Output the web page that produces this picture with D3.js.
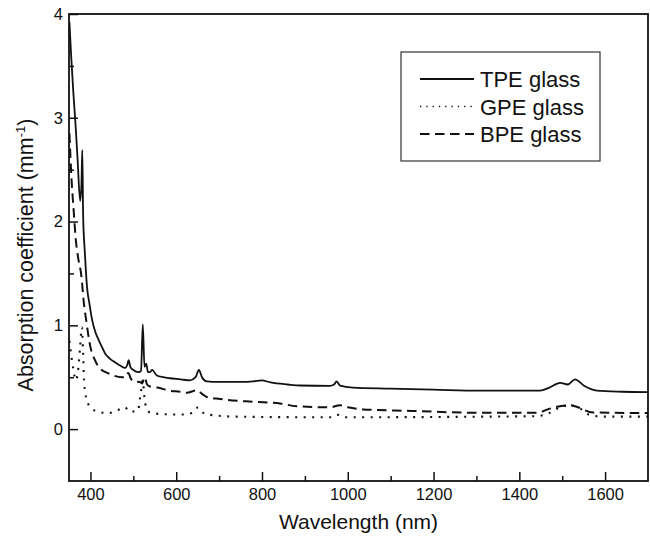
<!DOCTYPE html>
<html>
<head>
<meta charset="utf-8">
<script src="https://cdn.jsdelivr.net/npm/d3@7"></script>
<style>
  body { margin: 0; background: #fff; }
  #chart { width: 650px; height: 536px; }
  text { font-family: "Liberation Sans", Arial, sans-serif; fill: #111; }
</style>
</head>
<body>
<div id="chart"></div>
<script>
// Absorption spectra of the three glasses

var seriesNames = ["TPE glass", "GPE glass", "BPE glass"];

var tpeWl  = [351, 355, 360, 365, 370, 376, 379, 381, 383, 387, 392, 398, 404, 411, 419, 427, 434, 445, 457, 470, 481, 486, 489, 493, 500, 512, 518, 522, 526, 530, 534, 539, 544, 554, 570, 585, 610, 632, 645, 653, 660, 671, 700, 749, 780, 799, 820, 860, 889, 958, 968, 974, 982, 1012, 1100, 1200, 1308, 1400, 1448, 1470, 1495, 1513, 1530, 1550, 1581, 1640, 1700];
var tpeVal = [3.92, 3.6, 3.25, 2.95, 2.6, 2.2, 2.35, 2.69, 2.05, 1.7, 1.37, 1.2, 1.05, 0.94, 0.86, 0.79, 0.73, 0.68, 0.645, 0.61, 0.59, 0.62, 0.665, 0.6, 0.57, 0.55, 0.56, 1.01, 0.6, 0.63, 0.55, 0.55, 0.57, 0.52, 0.5, 0.49, 0.48, 0.47, 0.5, 0.57, 0.5, 0.46, 0.455, 0.455, 0.46, 0.47, 0.45, 0.43, 0.42, 0.417, 0.43, 0.46, 0.42, 0.4, 0.39, 0.38, 0.37, 0.37, 0.37, 0.4, 0.446, 0.43, 0.48, 0.42, 0.37, 0.36, 0.356];

var gpeWl  = [351, 355, 360, 366, 372, 376, 380, 383, 385, 388, 395, 400, 420, 443, 462, 481, 490, 505, 511, 515, 518, 522, 526, 530, 539, 566, 609, 640, 651, 662, 674, 741, 881, 960, 975, 990, 1100, 1308, 1440, 1467, 1495, 1518, 1541, 1565, 1600, 1700];
var gpeVal = [0.85, 0.72, 0.58, 0.47, 0.6, 0.8, 0.98, 0.72, 0.47, 0.35, 0.24, 0.21, 0.165, 0.155, 0.18, 0.21, 0.17, 0.17, 0.18, 0.28, 0.37, 0.47, 0.3, 0.21, 0.16, 0.145, 0.14, 0.16, 0.21, 0.16, 0.14, 0.12, 0.115, 0.115, 0.14, 0.115, 0.115, 0.12, 0.125, 0.15, 0.21, 0.23, 0.2, 0.135, 0.12, 0.12];

var bpeWl  = [351, 356, 361, 366, 371, 379, 384, 390, 400, 410, 419, 443, 474, 482, 488, 495, 500, 515, 520, 527, 532, 539, 556, 585, 609, 624, 649, 660, 671, 702, 779, 842, 881, 958, 982, 1000, 1035, 1150, 1308, 1440, 1473, 1518, 1530, 1572, 1700];
var bpeVal = [2.85, 2.4, 2.1, 1.82, 1.66, 1.47, 1.24, 1.05, 0.79, 0.67, 0.6, 0.535, 0.5, 0.5, 0.54, 0.48, 0.46, 0.455, 0.44, 0.5, 0.43, 0.41, 0.4, 0.37, 0.36, 0.35, 0.375, 0.34, 0.31, 0.29, 0.263, 0.247, 0.22, 0.21, 0.23, 0.21, 0.19, 0.175, 0.157, 0.157, 0.2, 0.23, 0.22, 0.16, 0.155];

var xTicks = [400, 600, 800, 1000, 1200, 1400, 1600];
var xMinor = [500, 700, 900, 1100, 1300, 1500];
var yTicks = [0, 1, 2, 3, 4];
var yMinor = [0.5, 1.5, 2.5, 3.5];

var width = 650, height = 536;
var plotL = 69, plotR = 648, plotT = 14, plotB = 481;

var svg = d3.select("#chart").append("svg")
    .attr("width", width)
    .attr("height", height);

var x = d3.scaleLinear().domain([350, 1700]).range([plotL, plotR]);
var y = d3.scaleLinear().domain([-0.5, 4]).range([plotB, plotT]);

// clip to the frame
svg.append("clipPath").attr("id", "clip")
  .append("rect")
    .attr("x", plotL).attr("y", plotT)
    .attr("width", plotR - plotL).attr("height", plotB - plotT);

// styles for each series
var styles = [
    { width: 1.8, dash: null },
    { width: 2.1, dash: "2,6.5" },
    { width: 2, dash: "9.5,5.5" }
];

function pack(wl, vals) {
    return wl.map(function(w, i) { return { wl: w, v: vals[i] }; });
}
var series = [pack(tpeWl, tpeVal), pack(gpeWl, gpeVal), pack(bpeWl, bpeVal)];

var line = d3.line()
    .x(function(d) { return x(d.wl); })
    .y(function(d) { return y(d.v); })
    .curve(d3.curveMonotoneX);

svg.append("g").attr("clip-path", "url(#clip)")
  .selectAll("path")
    .data(series)
    .enter()
    .append("path")
      .attr("d", line)
      .attr("fill", "none")
      .attr("stroke", "#111")
      .attr("stroke-width", function(d, i) { return styles[i].width; })
      .attr("stroke-dasharray", function(d, i) { return styles[i].dash; });

// axes (ticks point inward)
svg.append("g")
    .attr("transform", "translate(0," + plotB + ")")
    .call(d3.axisBottom(x).tickValues(xTicks).tickFormat(d3.format("d"))
        .tickSizeInner(-9).tickSizeOuter(0).tickPadding(7));
svg.append("g")
    .attr("transform", "translate(0," + plotB + ")")
    .call(d3.axisBottom(x).tickValues(xMinor).tickSizeInner(-5).tickSizeOuter(0).tickFormat(""));

svg.append("g")
    .attr("transform", "translate(" + plotL + ",0)")
    .call(d3.axisLeft(y).tickValues(yTicks).tickFormat(d3.format("d"))
        .tickSizeInner(-9).tickSizeOuter(0).tickPadding(6));
svg.append("g")
    .attr("transform", "translate(" + plotL + ",0)")
    .call(d3.axisLeft(y).tickValues(yMinor).tickSizeInner(-5).tickSizeOuter(0).tickFormat(""));

svg.selectAll(".domain").remove();
svg.selectAll(".tick line").attr("stroke", "#111").attr("stroke-width", 1.5);
svg.selectAll(".tick text")
    .style("font-size", "16.5px")
    .attr("fill", "#111");

// frame
svg.append("rect")
    .attr("x", plotL).attr("y", plotT)
    .attr("width", plotR - plotL).attr("height", plotB - plotT)
    .attr("fill", "none")
    .attr("stroke", "#111")
    .attr("stroke-width", 1.8);

// axis titles
svg.append("text")
    .attr("x", (plotL + plotR) / 2)
    .attr("y", 529)
    .attr("text-anchor", "middle")
    .style("font-size", "21px")
    .text("Wavelength (nm)");

var yt = svg.append("text")
    .attr("transform", "translate(33,255) rotate(-90)")
    .attr("text-anchor", "middle")
    .style("font-size", "21.5px");
yt.append("tspan").text("Absorption coefficient (mm");
yt.append("tspan").attr("dy", -8).style("font-size", "13px").text("-1");
yt.append("tspan").attr("dy", 8).text(")");

// legend
var legend = svg.append("g");
legend.append("rect")
    .attr("x", 401).attr("y", 52)
    .attr("width", 199).attr("height", 109)
    .attr("fill", "#fff")
    .attr("stroke", "#333")
    .attr("stroke-width", 1.2);

var rows = legend.selectAll(".row")
    .data(seriesNames)
    .enter()
    .append("g")
      .attr("class", "row")
      .attr("transform", function(d, i) { return "translate(0," + (79 + i * 27.5) + ")"; });

rows.append("line")
    .attr("x1", 420).attr("x2", 474)
    .attr("stroke", "#111")
    .attr("stroke-width", function(d, i) { return i == 1 ? 1.3 : 2; })
    .attr("stroke-dasharray", function(d, i) { return i == 1 ? "1.3,5" : styles[i].dash; });

rows.append("text")
    .attr("x", 480)
    .attr("y", 8)
    .style("font-size", "22px")
    .text(function(d) { return d; });
</script>
</body>
</html>
